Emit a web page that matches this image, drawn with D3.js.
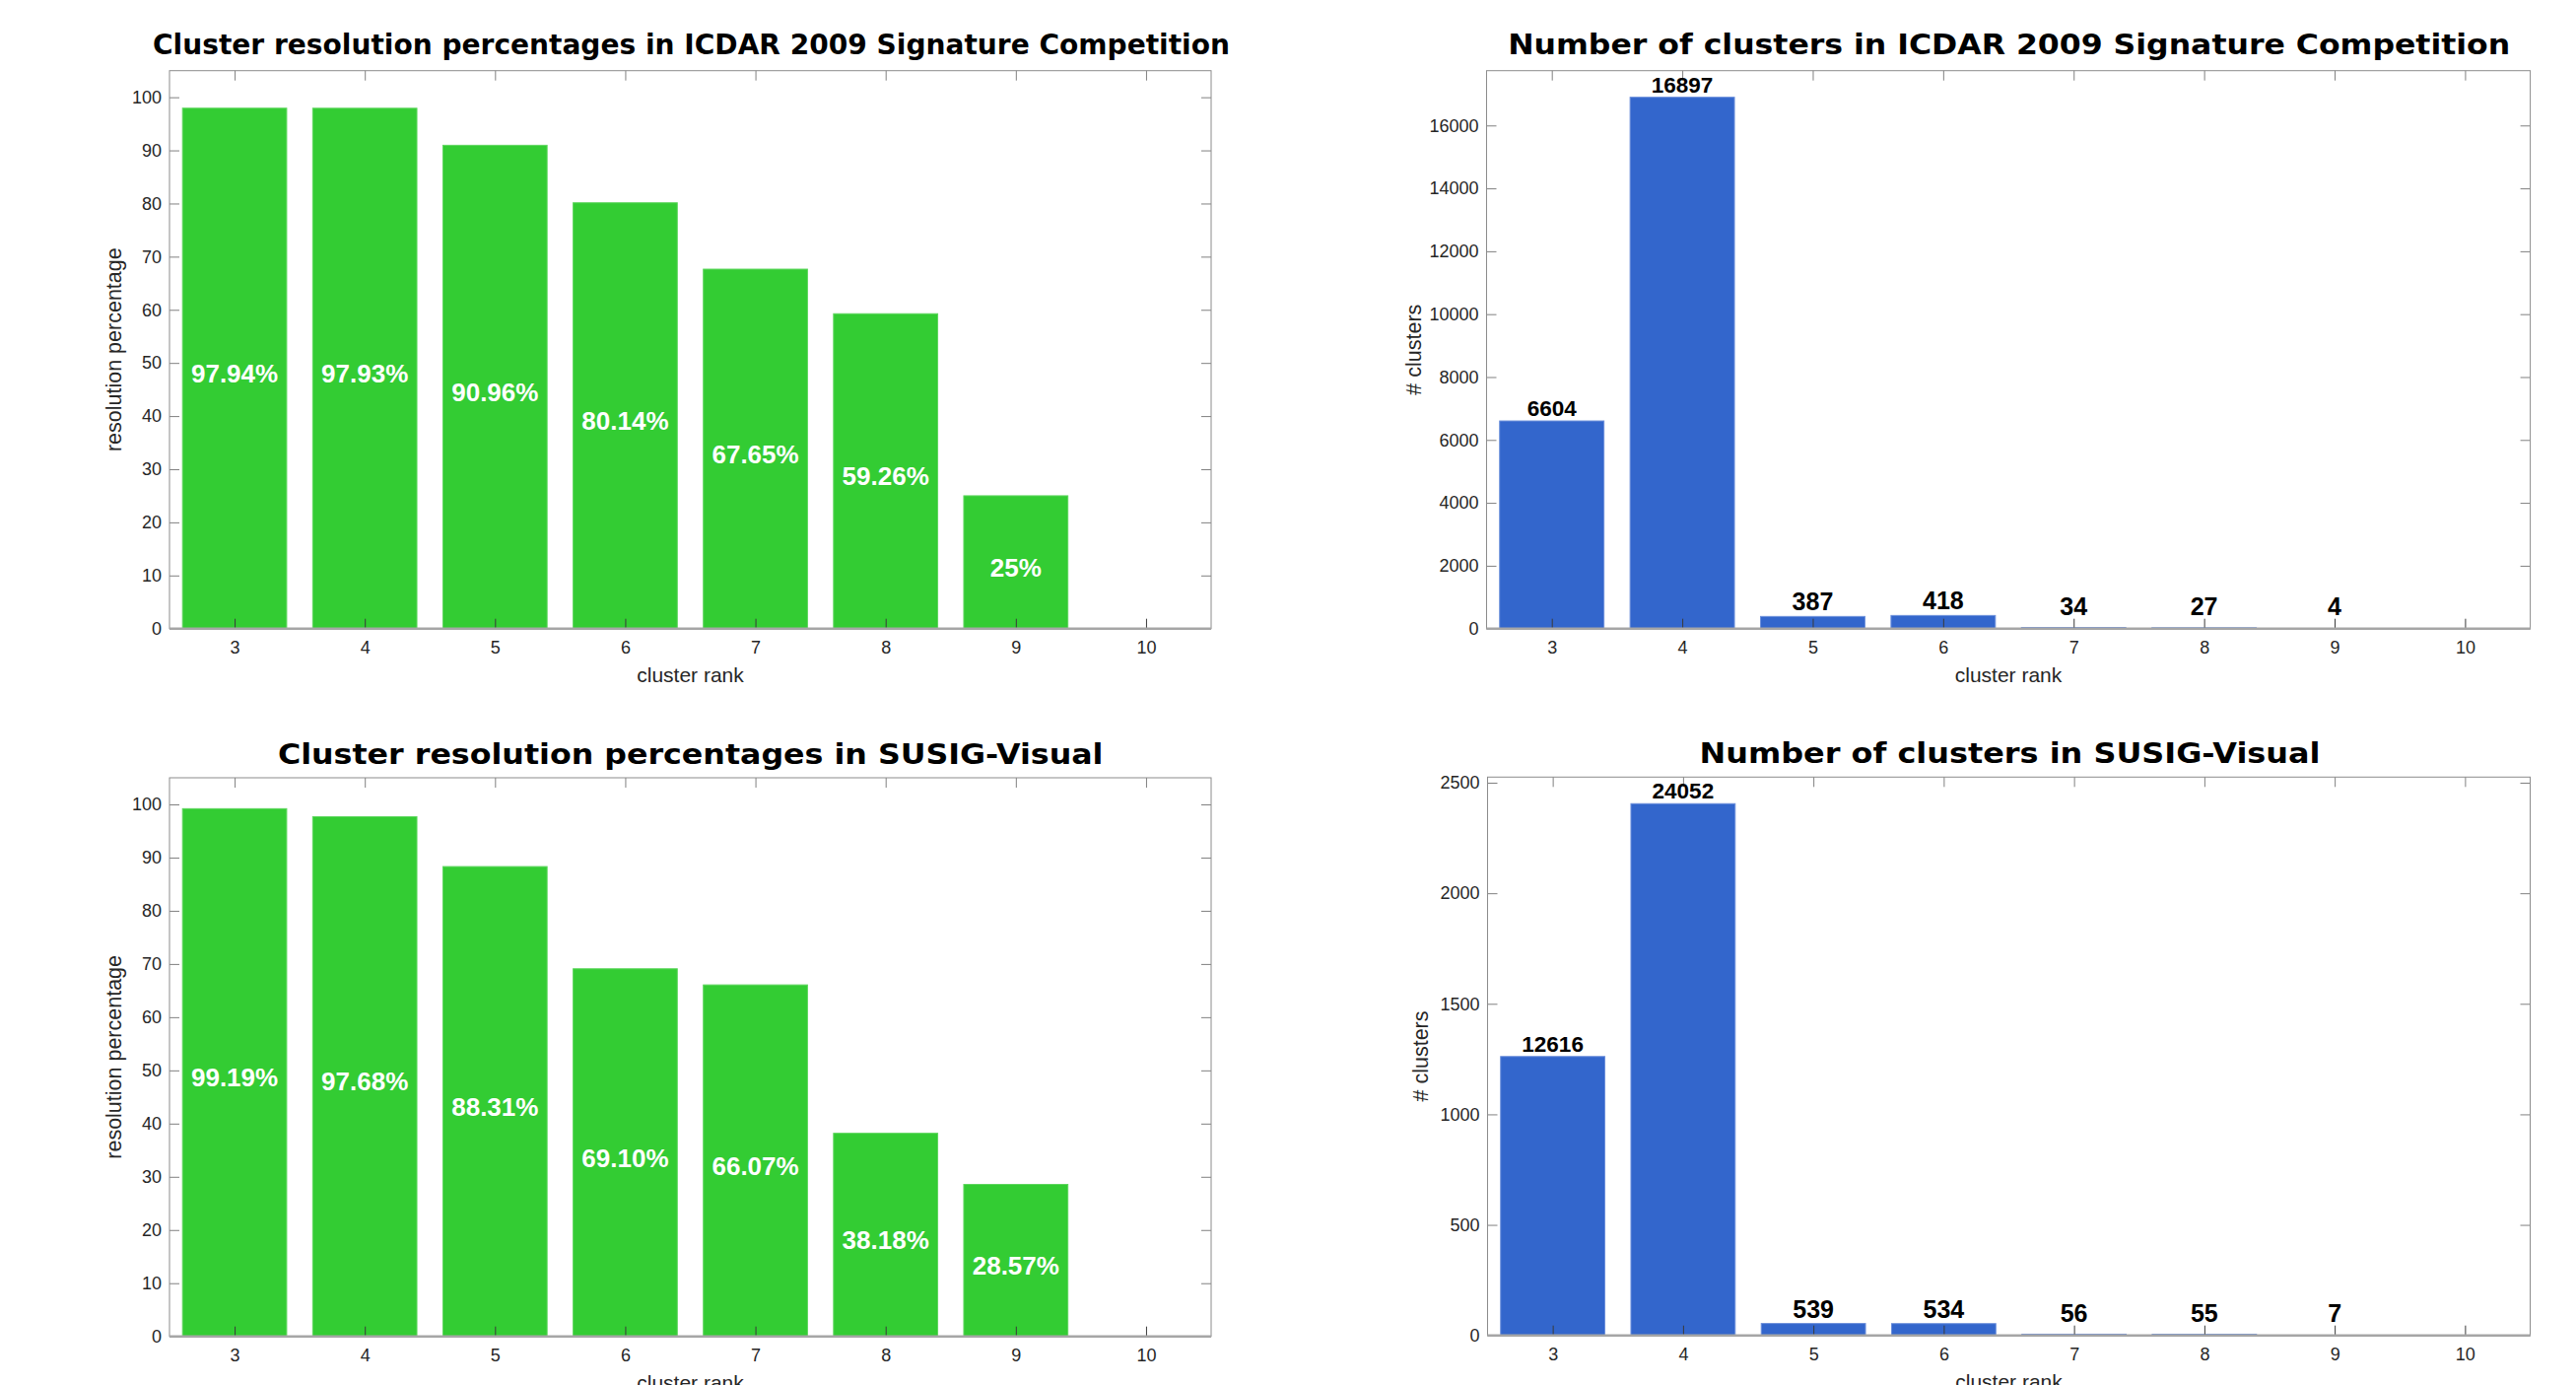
<!DOCTYPE html>
<html>
<head>
<meta charset="utf-8">
<script src="https://cdn.jsdelivr.net/npm/d3@7"></script>
<style>
  html, body { margin: 0; padding: 0; background: #fff; }
  svg { display: block; }
  .tick text { font-family: "Liberation Sans", Arial, sans-serif; font-size: 18px; fill: #262626; }
</style>
</head>
<body>
<svg id="chart" width="2614" height="1405"></svg>
<script>
// ---------------- DATA ----------------
const ranks = [3, 4, 5, 6, 7, 8, 9, 10];

const icdarPct = [97.94, 97.93, 90.96, 80.14, 67.65, 59.26, 25.00];
const icdarPctLabels = ["97.94%", "97.93%", "90.96%", "80.14%", "67.65%", "59.26%", "25%"];

const icdarCounts = [6604, 16897, 387, 418, 34, 27, 4];
const icdarCountLabels = ["6604", "16897", "387", "418", "34", "27", "4"];

const susigPct = [99.19, 97.68, 88.31, 69.10, 66.07, 38.18, 28.57];
const susigPctLabels = ["99.19%", "97.68%", "88.31%", "69.10%", "66.07%", "38.18%", "28.57%"];

// bar heights as drawn on the SUSIG count axis (0..2500), and their printed labels
const susigCountBars = [1261.6, 2405.2, 53.9, 53.4, 5.6, 5.5, 0.7];
const susigCountLabels = ["12616", "24052", "539", "534", "56", "55", "7"];

const pctTicks = [0, 10, 20, 30, 40, 50, 60, 70, 80, 90, 100];
const icdarCountTicks = [0, 2000, 4000, 6000, 8000, 10000, 12000, 14000, 16000];
const susigCountTicks = [0, 500, 1000, 1500, 2000, 2500];

const titles = [
  "Cluster resolution percentages in ICDAR 2009 Signature Competition",
  "Number of clusters in ICDAR 2009 Signature Competition",
  "Cluster resolution percentages in SUSIG-Visual",
  "Number of clusters in SUSIG-Visual"
];
const xLabel = "cluster rank";
const yLabels = ["resolution percentage", "# clusters"];

// ---------------- STYLE / LAYOUT ----------------
const GREEN = "#33cc33", GREEN_EDGE = "#5ed65e";
const BLUE = "#3366cc", BLUE_EDGE = "#6b8fdb";
const svg = d3.select("#chart");

const panels = [
  { title: titles[0], box: {l: 172, r: 1229, t: 71.7, b: 637.7}, yMax: 105, ticks: pctTicks,
    values: icdarPct, labels: icdarPctLabels, kind: "pct", color: GREEN, edge: GREEN_EDGE,
    titleX: 701.5, titleY: 55, titleW: 1093, yLab: yLabels[0], yLabX: 123 },
  { title: titles[1], box: {l: 1508.5, r: 2567.6, t: 71.7, b: 637.7}, yMax: 16897 * 1.05, ticks: icdarCountTicks,
    values: icdarCounts, labels: icdarCountLabels, kind: "count", color: BLUE, edge: BLUE_EDGE,
    titleX: 2038.7, titleY: 55, titleW: 1017, yLab: yLabels[1], yLabX: 1442 },
  { title: titles[2], box: {l: 172, r: 1229, t: 789, b: 1355.7}, yMax: 105, ticks: pctTicks,
    values: susigPct, labels: susigPctLabels, kind: "pct", color: GREEN, edge: GREEN_EDGE,
    titleX: 700.7, titleY: 774.5, titleW: 837.5, yLab: yLabels[0], yLabX: 123 },
  { title: titles[3], box: {l: 1509.5, r: 2567.5, t: 788.3, b: 1354.7}, yMax: 2405.2 * 1.05, ticks: susigCountTicks,
    values: susigCountBars, labels: susigCountLabels, kind: "count", color: BLUE, edge: BLUE_EDGE,
    titleX: 2039.5, titleY: 774.3, titleW: 630, yLab: yLabels[1], yLabX: 1449 }
];

panels.forEach(p => {
  const B = p.box;
  const g = svg.append("g");
  const x = d3.scaleLinear().domain([2.5, 10.5]).range([B.l, B.r]);
  const y = d3.scaleLinear().domain([0, p.yMax]).range([B.b, B.t]);

  g.append("rect").attr("x", B.l).attr("y", B.t).attr("width", B.r - B.l).attr("height", B.b - B.t)
    .attr("fill", "#fff");

  // bars
  g.selectAll("rect.bar").data(p.values).join("rect").attr("class", "bar")
    .attr("x", (d, i) => x(ranks[i] - 0.4))
    .attr("width", (d, i) => x(ranks[i] + 0.4) - x(ranks[i] - 0.4))
    .attr("y", d => y(d))
    .attr("height", d => y(0) - y(d))
    .attr("fill", p.color)
    .attr("stroke", p.edge).attr("stroke-width", 1);

  // axes (ticks point inward)
  const ax = g.append("g").attr("transform", `translate(0,${B.b})`)
    .call(d3.axisBottom(x).tickValues(ranks).tickFormat(d3.format("d")).tickSize(-10).tickSizeOuter(0).tickPadding(13));
  const axT = g.append("g").attr("transform", `translate(0,${B.t})`)
    .call(d3.axisTop(x).tickValues(ranks).tickFormat("").tickSize(-10).tickSizeOuter(0));
  const ay = g.append("g").attr("transform", `translate(${B.l},0)`)
    .call(d3.axisLeft(y).tickValues(p.ticks).tickFormat(d3.format("d")).tickSize(-10).tickSizeOuter(0).tickPadding(8));
  const ayR = g.append("g").attr("transform", `translate(${B.r},0)`)
    .call(d3.axisRight(y).tickValues(p.ticks).tickFormat("").tickSize(-10).tickSizeOuter(0));
  [ax, axT, ay, ayR].forEach(a => {
    a.select(".domain").remove();
    a.selectAll(".tick line").attr("stroke", "#3a3a3a").attr("stroke-width", 1);
    a.selectAll(".tick text").attr("font-family", null).attr("font-size", null).attr("fill", null);
  });
  axT.selectAll(".tick line").attr("stroke", "#808080");
  ayR.selectAll(".tick line").attr("stroke", "#808080");
  ay.selectAll(".tick line").attr("stroke", "#808080");

  // box outline
  g.append("rect").attr("x", B.l).attr("y", B.t).attr("width", B.r - B.l).attr("height", B.b - B.t)
    .attr("fill", "none").attr("stroke", "#8c8c8c").attr("stroke-width", 1);
  // baseline
  g.append("line").attr("x1", B.l).attr("x2", B.r).attr("y1", y(0)).attr("y2", y(0))
    .attr("stroke", "#a6a6a6").attr("stroke-width", 2.5);

  // value labels
  if (p.kind === "pct") {
    g.selectAll("text.vl").data(p.values).join("text").attr("class", "vl")
      .attr("x", (d, i) => x(ranks[i]))
      .attr("y", d => y(d / 2) + 5)
      .attr("dy", "0.36em")
      .attr("text-anchor", "middle")
      .attr("font-family", "'Liberation Sans', Arial, sans-serif")
      .attr("font-weight", "bold").attr("font-size", 26).attr("fill", "#fff")
      .text((d, i) => p.labels[i]);
  } else {
    g.selectAll("text.vl").data(p.values).join("text").attr("class", "vl")
      .attr("x", (d, i) => x(ranks[i]))
      .attr("y", d => {
        const big = y(d) < y(0) - 50;
        return big ? y(d) - 5 : Math.min(y(d) - 6, y(0) - 14);
      })
      .attr("text-anchor", "middle")
      .attr("font-family", "'Liberation Sans', Arial, sans-serif")
      .attr("font-weight", "bold")
      .attr("font-size", d => (y(d) < y(0) - 50 ? 22.5 : 25))
      .attr("fill", "#000")
      .text((d, i) => p.labels[i]);
  }

  // title
  svg.append("text").attr("x", p.titleX).attr("y", p.titleY)
    .attr("text-anchor", "middle")
    .attr("font-family", "'DejaVu Sans', Verdana, sans-serif")
    .attr("font-weight", "bold").attr("font-size", 28).attr("fill", "#000")
    .attr("textLength", p.titleW).attr("lengthAdjust", "spacingAndGlyphs")
    .text(p.title);

  // x label (partly below the page edge for the lower row, as in the reference)
  svg.append("text").attr("x", (B.l + B.r) / 2).attr("y", B.b + 54)
    .attr("text-anchor", "middle")
    .attr("font-family", "'Liberation Sans', Arial, sans-serif")
    .attr("font-size", 21).attr("fill", "#262626")
    .text(xLabel);

  // y label
  svg.append("text")
    .attr("transform", `translate(${p.yLabX},${(B.t + B.b) / 2}) rotate(-90)`)
    .attr("text-anchor", "middle")
    .attr("font-family", "'Liberation Sans', Arial, sans-serif")
    .attr("font-size", 21.5).attr("fill", "#262626")
    .text(p.yLab);
});
</script>
</body>
</html>
